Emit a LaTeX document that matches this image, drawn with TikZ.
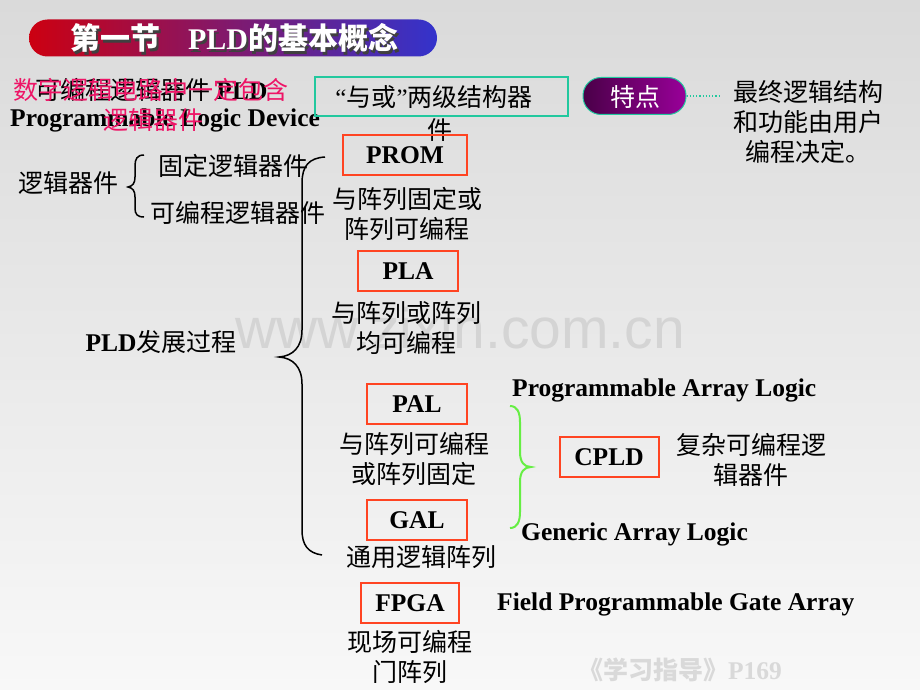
\documentclass[tikz,border=0pt]{standalone}
\usepackage{fontspec}
\setmainfont{Liberation Serif}
\newfontfamily\cn{Noto Sans CJK SC}
\newfontfamily\wmfont{Liberation Sans}
\newcommand{\zh}[1]{{\cn #1}}
\definecolor{boxred}{HTML}{FF4422}
\definecolor{tealc}{HTML}{22C89E}
\definecolor{pinkred}{HTML}{EE1466}
\definecolor{bgtop}{HTML}{DADADA}
\definecolor{bgbot}{HTML}{F8F8F8}
\definecolor{bred}{HTML}{CC0011}
\definecolor{bblue}{HTML}{3333CC}
\definecolor{pdark}{HTML}{4A0048}
\definecolor{plight}{HTML}{990099}
\definecolor{gbrace}{HTML}{66EE44}
\begin{document}
\begin{tikzpicture}[x=1pt,y=-1pt,
  txt/.style={inner sep=0pt, align=center, font=\fontsize{25}{30}\selectfont},
  entxt/.style={inner sep=0pt, align=center, font=\fontsize{25.5}{30}\selectfont\bfseries},
  redbox/.style={draw=boxred, line width=2pt, inner sep=0pt, font=\fontsize{25.5}{30}\selectfont\bfseries},
  bracel/.style={black, line width=1.5pt},
]
\shade[top color=bgtop, bottom color=bgbot] (0,0) rectangle (920,690);
\useasboundingbox (0,0) rectangle (920,690);

% watermark
\node[inner sep=0, text=black!17, font=\fontsize{57}{60}\wmfont] (wmk) at (460,328) {www.zixin.com.cn};

% title banner
\node[rounded corners=18.5pt, minimum width=408pt, minimum height=37pt, left color=bred, right color=bblue, inner sep=0] (banner) at (233,38) {};
\node[inner sep=0, text=black!75, font=\fontsize{30}{32}\selectfont\bfseries] (titleshadow) at (236,40.5) {\zh{第一节}\hspace{28pt}PLD\zh{的基本概念}};
\node[inner sep=0, text=white, font=\fontsize{30}{32}\selectfont\bfseries] (title) at (234,38) {\zh{第一节}\hspace{28pt}PLD\zh{的基本概念}};

% PLD definition and overlapping red text
\node[txt, anchor=west] (pldcn) at (35,90) {\zh{可编程逻辑器件} {\fontsize{25.5}{30}\selectfont\bfseries PLD}};
\node[entxt, anchor=west] (plden) at (10,120) {Programmable Logic Device};
\node[txt, text=pinkred] (red1) at (151,90) {\zh{数字逻辑电路中一定包含}};
\node[txt, text=pinkred] (red2) at (153,120) {\zh{逻辑器件}};

% and-or box
\node[draw=tealc, line width=2pt, minimum width=253pt, minimum height=39pt, inner sep=0] (yuhuo) at (441,96.5) {};
\node[txt] (yuhuot) at (434,97) {“\zh{与或}”\zh{两级结构器}};
\node[txt] (jian) at (440,130) {\zh{件}};

% feature pill
\node[rounded corners=18pt, minimum width=103pt, minimum height=37pt, left color=pdark, right color=plight, draw=tealc, line width=1pt, inner sep=0] (tedian) at (634.5,96) {};
\node[txt, text=white] (tdtext) at (635,97) {\zh{特点}};
\coordinate (tdend) at (720,96);
\draw[tealc, dotted, line width=1.2pt] (tedian.east) -- (tdend);
\node[txt] (final) at (808,122) {\zh{最终逻辑结构}\\\zh{和功能由用户}\\\zh{编程决定。}};

% logic devices
\node[txt] (ljqj) at (68,183) {\zh{逻辑器件}};
\node[txt] (guding) at (233,166) {\zh{固定逻辑器件}};
\node[txt] (kebian) at (238,213) {\zh{可编程逻辑器件}};
\draw[bracel] (144,155) .. controls (137,155) and (135,159) .. (135,166) -- (135,177)
  .. controls (135,183) and (133,186) .. (128,187)
  .. controls (133,188) and (135,191) .. (135,197) -- (135,208)
  .. controls (135,214) and (137,217) .. (144,217);

% PLD development
\node[txt] (pldfz) at (161,342) {{\fontsize{25.5}{30}\selectfont\bfseries PLD}\zh{发展过程}};
\draw[bracel] (325,157) .. controls (309,158) and (302,166) .. (302,183) -- (302,330)
  .. controls (302,347) and (293,356) .. (279,357)
  .. controls (293,358) and (302,367) .. (302,384) -- (302,530)
  .. controls (302,545) and (308,553) .. (322,555);

\node[redbox, minimum width=124pt, minimum height=40pt] (prom) at (405,155) {PROM};
\node[txt] (promd) at (407,214) {\zh{与阵列固定或}\\\zh{阵列可编程}};
\node[redbox, minimum width=100pt, minimum height=40pt] (pla) at (408,271) {PLA};
\node[txt] (plad) at (406,328) {\zh{与阵列或阵列}\\\zh{均可编程}};
\node[redbox, minimum width=100pt, minimum height=40pt] (pal) at (417,404) {PAL};
\node[txt] (pald) at (414,459) {\zh{与阵列可编程}\\\zh{或阵列固定}};
\node[redbox, minimum width=100pt, minimum height=40pt] (gal) at (417,520) {GAL};
\node[txt] (gald) at (421,557) {\zh{通用逻辑阵列}};
\node[redbox, minimum width=98pt, minimum height=40pt] (fpga) at (410,603) {FPGA};
\node[txt] (fpgad) at (410,657) {\zh{现场可编程}\\\zh{门阵列}};

\node[entxt, anchor=west] (palen) at (512,390) {Programmable Array Logic};
\node[entxt, anchor=west] (galen) at (521,534) {Generic Array Logic};
\node[entxt, anchor=west] (fpgaen) at (497,604) {Field Programmable Gate Array};

\draw[gbrace, line width=2pt] (510,406) .. controls (517,406) and (520,412) .. (520,422) -- (520,452)
  .. controls (520,462) and (524,467) .. (531,467)
  .. controls (524,467) and (520,472) .. (520,482) -- (520,512)
  .. controls (520,522) and (517,528) .. (510,528);

\node[redbox, minimum width=99pt, minimum height=40pt] (cpld) at (609,457) {CPLD};
\node[txt] (cpldd) at (751,460) {\zh{复杂可编程逻}\\\zh{辑器件}};

\node[txt, text=black!15] (ref) at (680,670) {\zh{\bfseries 《学习指导》}{\fontsize{25.5}{30}\selectfont\bfseries P169}};
\end{tikzpicture}
\end{document}
